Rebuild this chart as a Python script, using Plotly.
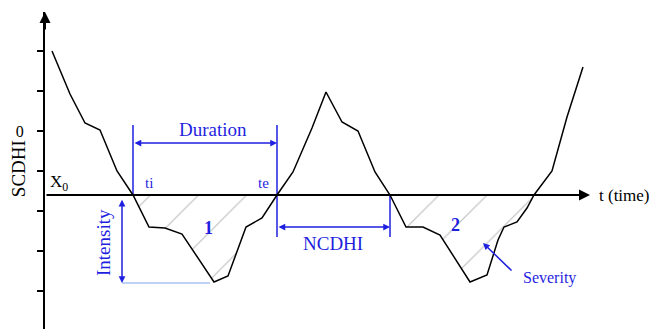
import plotly.graph_objects as go

# SCDHI curve (t in time steps, value in SCDHI units)
curve_t = [0.7, 2.5, 4.0, 5.5, 7.2, 8.8, 10.4, 12.0, 13.7, 16.9, 18.3, 20.1, 21.7, 23.2,
           24.8, 26.7, 28.1, 29.7, 31.3, 33.0, 34.5, 36.1, 37.8, 39.5, 42.5, 44.2, 45.3,
           45.9, 47.2, 48.2, 48.9, 50.7, 52.2, 53.8]
curve_v = [2.0, 0.925, 0.2, 0.025, -1.0, -1.6, -2.4, -2.425, -2.575, -3.775, -3.625, -2.4,
           -2.175, -1.6, -1.025, 0.075, 0.975, 0.225, 0.0, -1.025, -1.6, -2.4, -2.4, -2.6,
           -3.775, -3.6, -2.725, -2.4, -2.275, -1.925, -1.6, -1.0, 0.35, 1.6]

X0 = -1.6                      # threshold level
event1 = (5, 13)               # index range of drought event 1 (ti .. te)
event2 = (20, 30)              # index range of drought event 2
y_ticks = [2, 1, 0, -1, -2, -3, -4]
y_ticktext = ['', '', '0', '', '', '', '']

BLUE = '#1f1fe0'
LIGHT_BLUE = '#a9c3f0'
SERIF = 'Liberation Serif, Times New Roman, serif'
Y_RANGE = [-4.95, 2.975]

ti = curve_t[event1[0]]
te = curve_t[event1[1]]
t_next = curve_t[event2[0]]

fig = go.Figure()

# hatched severity areas
for a, b in (event1, event2):
    fig.add_trace(go.Scatter(
        x=curve_t[a:b + 1], y=curve_v[a:b + 1],
        mode='lines', fill='toself', line=dict(width=0),
        fillcolor='rgba(0,0,0,0)',
        fillpattern=dict(shape='/', size=34, fgcolor='#808080',
                         bgcolor='rgba(0,0,0,0)', solidity=0.035),
        hoverinfo='skip', showlegend=False,
    ))

# blue marker lines: duration, NCDHI bounds
fig.add_trace(go.Scatter(
    x=[ti, ti, None, te, te, None, te, te, None, t_next, t_next],
    y=[X0, 0.15, None, X0, 0.15, None, X0, -2.65, None, X0, -2.65],
    mode='lines', line=dict(color=BLUE, width=1.5),
    hoverinfo='skip', showlegend=False,
))

# light line at minimum (intensity)
fig.add_trace(go.Scatter(
    x=[7.7, 16.5], y=[-3.8, -3.8],
    mode='lines', line=dict(color=LIGHT_BLUE, width=1.5),
    hoverinfo='skip', showlegend=False,
))

# SCDHI curve
fig.add_trace(go.Scatter(
    x=curve_t, y=curve_v, mode='lines',
    line=dict(color='black', width=1.5),
    hoverinfo='skip', showlegend=False,
))


def arrow(x0, y0, x1, y1, color, width=1.5, side='end', head=2, size=1.0):
    return dict(x=x1, y=y1, ax=x0, ay=y0, xref='x', yref='y', axref='x', ayref='y',
                text='', showarrow=True, arrowhead=head, startarrowhead=head,
                arrowside=side, arrowwidth=width, arrowsize=size, arrowcolor=color)


def label(x, y, text, size, color=BLUE, angle=0, xanchor='center', bold=False):
    if bold:
        text = f'<b>{text}</b>'
    return dict(x=x, y=y, xref='x', yref='y', text=text, showarrow=False,
                textangle=angle, xanchor=xanchor, yanchor='middle',
                font=dict(family=SERIF, size=size, color=color))


annotations = [
    # axes arrows
    arrow(0, X0, 54.5, X0, 'black', width=2, head=2, size=1.1),
    arrow(0, 2.5, 0, 2.975, 'black', width=2, head=2, size=1.1),
    # double arrows
    arrow(ti, -0.3, te, -0.3, BLUE, side='end+start', head=2, size=0.9),
    arrow(te, -2.4, t_next, -2.4, BLUE, side='end+start', head=2, size=0.9),
    arrow(7.7, X0 - 0.08, 7.7, -3.8, BLUE, side='end+start', head=2, size=0.9),
    arrow(46.8, -3.525, 43.8, -2.8, BLUE, head=2, size=0.9),
    # texts
    label(16.8, 0.05, 'Duration', 19),
    label(10.4, -1.3, 'ti', 15),
    label(21.8, -1.3, 'te', 15),
    label(28.8, -2.82, 'NCDHI', 19),
    label(5.8, -2.8, 'Intensity', 19, angle=-90),
    label(16.3, -2.43, '1', 18, bold=True),
    label(41.0, -2.35, '2', 18, bold=True),
    label(50.4, -3.68, 'Severity', 16),
    label(55.2, X0, 't (time)', 17, color='black', xanchor='left'),
    label(0.3, -1.3, 'X<sub>0</sub>', 17, color='black', xanchor='left'),
    # y-axis title (paper coords so it is not hidden outside the x range)
    dict(x=-0.044, y=(-0.93 - Y_RANGE[0]) / (Y_RANGE[1] - Y_RANGE[0]),
         xref='paper', yref='paper', text='SCDHI', showarrow=False,
         textangle=-90, xanchor='center', yanchor='middle',
         font=dict(family=SERIF, size=19, color='black')),
]

# page body has an 8px margin, so the figure is 8px smaller than the window
fig.update_layout(
    width=651,
    height=321,
    paper_bgcolor='white',
    plot_bgcolor='white',
    margin=dict(l=37, r=0, t=4, b=0),
    showlegend=False,
    annotations=annotations,
    xaxis=dict(
        range=[0, 61.4], showgrid=False, zeroline=False,
        showticklabels=False, showline=False, ticks='',
    ),
    yaxis=dict(
        range=Y_RANGE, showgrid=False, zeroline=False,
        showline=True, linewidth=2, linecolor='black',
        ticks='outside', ticklen=6, tickwidth=1.5, tickcolor='black',
        tickvals=y_ticks, ticktext=y_ticktext, ticklabelstandoff=10,
        tickfont=dict(family=SERIF, size=16, color='black'),
    ),
)

fig.write_html('out.html', config={'displayModeBar': False})
